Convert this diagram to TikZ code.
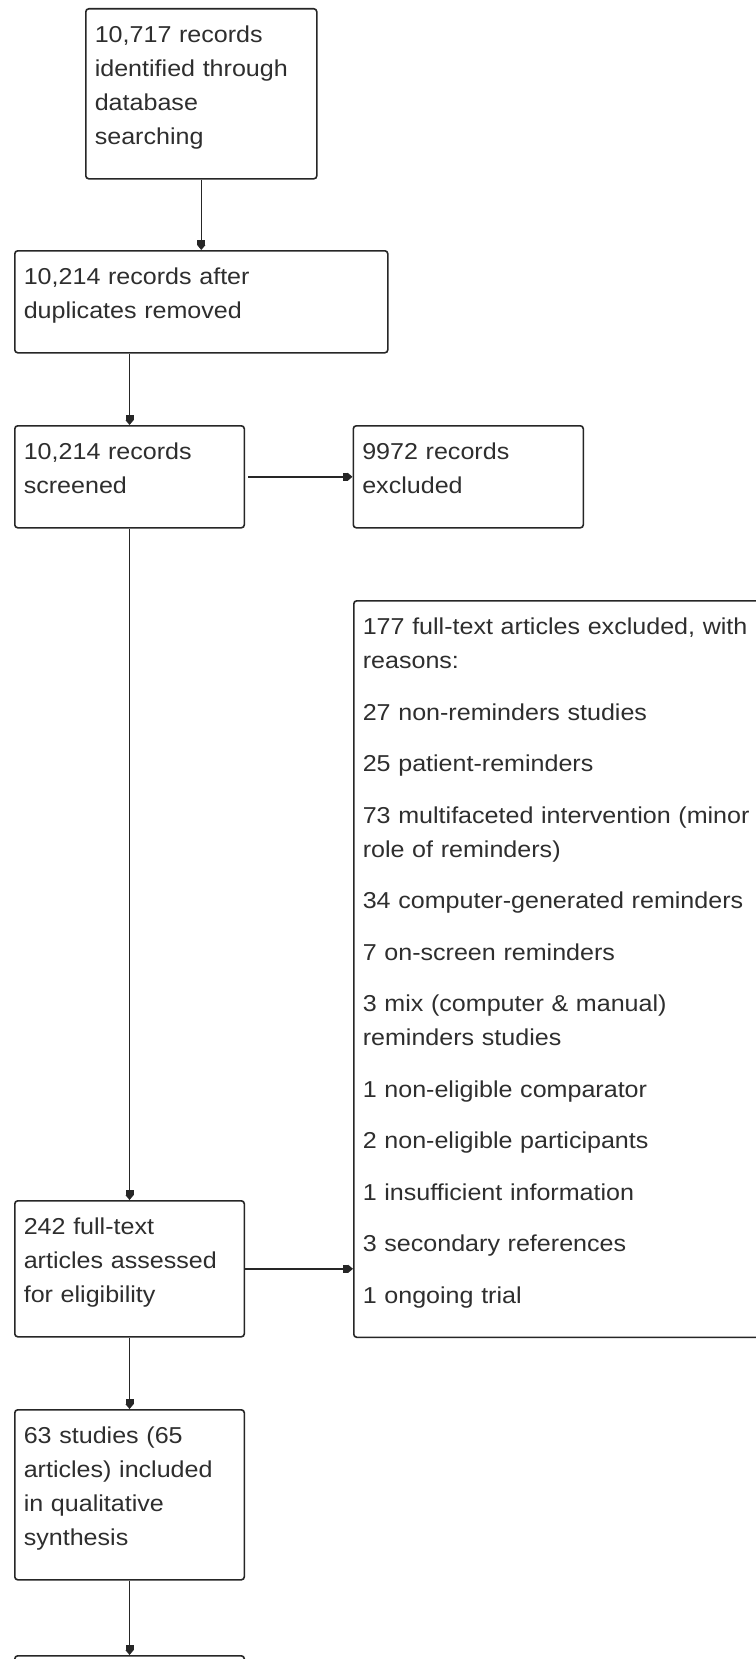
\documentclass[tikz,border=0pt]{standalone}
\usepackage{fontspec}
\setmainfont{Liberation Sans}[FakeStretch=1.09]
\usetikzlibrary{arrows.meta,calc}
\newcommand\ls{\vrule width 0pt height 17pt depth 17pt\relax}
\begin{document}
\lineskiplimit=-5pt
\begin{tikzpicture}[x=1pt,y=-1pt,
  box/.style={draw=black!85, line width=1.6pt, rounded corners=3pt, anchor=north west,
    align=left, inner xsep=9pt, inner ysep=17pt,
    font=\fontsize{23pt}{34pt}\selectfont, text=black!82},
  arr/.style={draw=black!85, line width=1.6pt,
    -{Rectangle[width=8pt,length=5pt,sep=0pt]Triangle[width=8pt,length=5pt]}}]
\useasboundingbox (0,0) rectangle (755,1659);
\fill[white] (0,0) rectangle (755,1659);

\node[box, text width=213pt] (b1) at (85,8)
  {\ls 10,717 records\\ \ls identified through\\ \ls database\\ \ls searching};
\node[box, text width=355pt] (b2) at (14,250)
  {\ls 10,214 records after\\ \ls duplicates removed};
\node[box, text width=211.5pt] (b3) at (14,425)
  {\ls 10,214 records\\ \ls screened};
\node[box, text width=212pt] (ex1) at (352.5,425)
  {\ls 9972 records\\ \ls excluded};
\node[box, text width=402pt] (big) at (353,600)
  {\ls 177 full-text articles excluded, with\\ \ls reasons:\\[17.5pt]
   \ls 27 non-reminders studies\\[17.5pt]
   \ls 25 patient-reminders\\[17.5pt]
   \ls 73 multifaceted intervention (minor\\ \ls role of reminders)\\[17.5pt]
   \ls 34 computer-generated reminders\\[17.5pt]
   \ls 7 on-screen reminders\\[17.5pt]
   \ls 3 mix (computer \& manual)\\ \ls reminders studies\\[17.5pt]
   \ls 1 non-eligible comparator\\[17.5pt]
   \ls 2 non-eligible participants\\[17.5pt]
   \ls 1 insufficient information\\[17.5pt]
   \ls 3 secondary references\\[17.5pt]
   \ls 1 ongoing trial};
\node[box, text width=211.5pt] (b4) at (14,1200)
  {\ls 242 full-text\\ \ls articles assessed\\ \ls for eligibility};
\node[box, text width=211.5pt] (b5) at (14,1409)
  {\ls 63 studies (65\\ \ls articles) included\\ \ls in qualitative\\ \ls synthesis};
\node[box, text width=211.5pt, minimum height=100pt] (b6) at (14,1655) {};

\draw[arr] (b1.south) -- (b2.north);
\draw[arr] (b3.north |- b2.south) -- (b3.north);
\draw[arr, shorten <=3pt] (b3.east) -- (ex1.west);
\draw[arr] (b3.south) -- (b4.north);
\draw[arr] (b4.east) -- (b4.east -| big.west);
\draw[arr] (b4.south) -- (b5.north);
\draw[arr] (b5.south) -- (b6.north);
\end{tikzpicture}
\end{document}
